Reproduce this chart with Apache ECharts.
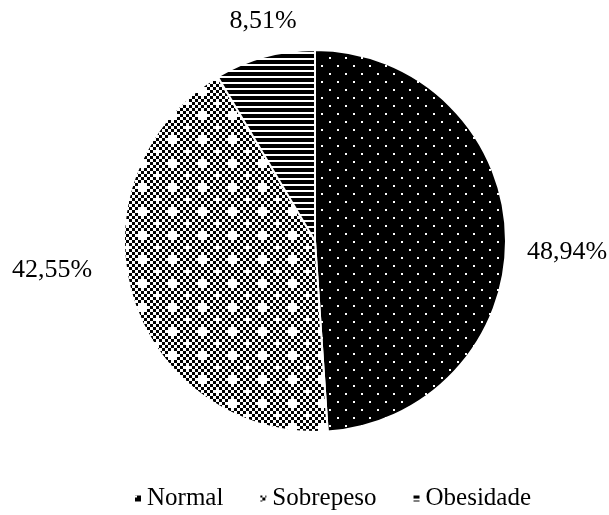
<!DOCTYPE html>
<html>
<head>
<meta charset="utf-8">
<script src="https://cdn.jsdelivr.net/npm/echarts@6/dist/echarts.min.js"></script>
<style>
html,body{margin:0;padding:0;background:#fff;}
#c{width:609px;height:515px;}
</style>
</head>
<body>
<div id="c"></div>
<script>
// ---- data ----
const categories = ['Normal', 'Sobrepeso', 'Obesidade'];
const values = [48.94, 42.55, 8.51];
const labelTexts = ['48,94%', '42,55%', '8,51%'];

// ---- layout (label centres, px) ----
const labelCentres = [[567, 252], [52, 270], [263, 21]];

function makeDots() {
  const c = document.createElement('canvas');
  c.width = 16; c.height = 16;
  const g = c.getContext('2d');
  g.fillStyle = '#000'; g.fillRect(0, 0, 16, 16);
  g.fillStyle = '#fff';
  g.fillRect(1, 1, 2, 2);
  g.fillRect(9, 9, 2, 2);
  return c;
}
function makeChecker() {
  const c = document.createElement('canvas');
  const cell = 3, nx = 10, ny = 8;
  c.width = cell * nx; c.height = cell * ny;
  const g = c.getContext('2d');
  g.fillStyle = '#fff'; g.fillRect(0, 0, c.width, c.height);
  const white = new Set();
  function plus(cx, cy) {
    [[0,0],[1,0],[-1,0],[0,1],[0,-1]].forEach(d => {
      white.add(((cx + d[0] + nx) % nx) + ',' + ((cy + d[1] + ny) % ny));
    });
  }
  plus(2, 2); plus(7, 6);
  g.fillStyle = '#000';
  for (let i = 0; i < nx; i++) for (let j = 0; j < ny; j++) {
    if ((i + j) % 2 === 0 && !white.has(i + ',' + j)) g.fillRect(i * cell, j * cell, cell, cell);
  }
  return c;
}
function makeStripes() {
  const c = document.createElement('canvas');
  c.width = 12; c.height = 6;
  const g = c.getContext('2d');
  g.fillStyle = '#fff'; g.fillRect(0, 0, 12, 6);
  g.fillStyle = '#000'; g.fillRect(0, 0, 12, 4);
  return c;
}
const patterns = [makeDots(), makeChecker(), makeStripes()];

const chart = echarts.init(document.getElementById('c'), null, {renderer: 'canvas'});
const font = '"Liberation Serif", "Times New Roman", serif';

chart.setOption({
  animation: false,
  backgroundColor: '#fff',
  legend: {
    data: categories,
    bottom: -1,
    left: 128,
    itemWidth: 8,
    itemHeight: 8,
    itemGap: 35,
    icon: 'rect',
    textStyle: {fontFamily: font, fontSize: 25, color: '#000'}
  },
  series: [{
    type: 'pie',
    center: [315, 241],
    radius: 191,
    startAngle: 90,
    clockwise: true,
    silent: true,
    data: categories.map((n, i) => ({
      name: n,
      value: values[i],
      itemStyle: {color: {image: patterns[i], repeat: 'repeat'}, borderColor: '#fff', borderWidth: 2}
    })),
    label: {
      show: true,
      position: 'outside',
      overflow: 'none',
      formatter: p => labelTexts[p.dataIndex],
      fontFamily: font,
      fontSize: 26,
      color: '#000'
    },
    labelLine: {show: false},
    labelLayout: p => ({
      x: labelCentres[p.dataIndex][0],
      y: labelCentres[p.dataIndex][1],
      align: 'center',
      verticalAlign: 'middle'
    })
  }]
});
</script>
</body>
</html>
